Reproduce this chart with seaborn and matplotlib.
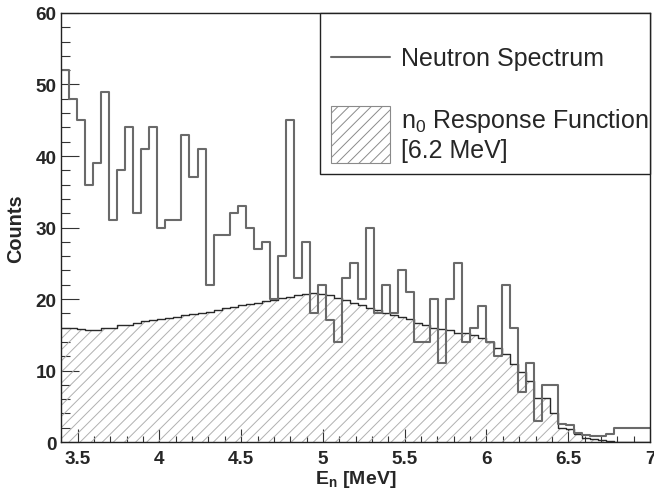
import numpy as np
import pandas as pd
import matplotlib
matplotlib.use('Agg')
import matplotlib.pyplot as plt
import seaborn as sns
from matplotlib.patches import Rectangle
from matplotlib.lines import Line2D
from matplotlib.ticker import MultipleLocator

# histogram binning (MeV)
e_start = 3.4
bin_width = 0.049

# neutron spectrum counts per bin
neutron = [52, 48, 45, 36, 39, 49, 31, 38, 44, 32, 41, 44, 30, 31, 31, 43, 37, 41, 22, 29,
           29, 32, 33, 30, 27, 28, 20, 26, 45, 23, 28, 18, 22, 17, 14, 23, 25, 20, 30, 18,
           22, 18, 24, 21, 14, 14, 20, 11, 20, 25, 14, 16, 19, 14, 12, 22, 16, 7, 11, 3,
           8, 8, 2.5, 2.4, 1.3, 1.0, 0.8, 0.8, 1.1, 2, 2, 2, 2, 2]

# n0 response function [6.2 MeV]
response = [16.0, 15.9, 15.8, 15.7, 15.7, 15.9, 16.0, 16.3, 16.4, 16.7, 16.9, 17.0, 17.2, 17.4,
            17.5, 17.8, 17.9, 18.1, 18.2, 18.5, 18.7, 18.9, 19.1, 19.3, 19.5, 19.7, 19.9, 20.1,
            20.3, 20.5, 20.7, 20.8, 20.7, 20.5, 20.2, 19.9, 19.4, 19.2, 18.8, 18.4, 18.1, 17.8,
            17.5, 17.2, 16.7, 16.3, 15.9, 15.8, 15.7, 15.3, 15.2, 15.0, 14.6, 14.0, 13.2, 12.3,
            10.9, 9.8, 8.6, 6.2, 6.1, 4.1, 2.0, 1.8, 1.1, 0.6, 0.4, 0.3, 0.1, 0, 0, 0, 0, 0]

edges = list(e_start + bin_width * np.arange(len(neutron) + 1))
df = pd.DataFrame({'E': np.array(edges[:-1]) + bin_width / 2, 'neutron': neutron,
                   'response': response})

sns.set_style('ticks')
plt.rcParams['font.family'] = ['Liberation Sans', 'DejaVu Sans']
plt.rcParams['mathtext.fontset'] = 'custom'
plt.rcParams['mathtext.rm'] = 'Liberation Sans'
plt.rcParams['mathtext.bf'] = 'Liberation Sans:bold'
plt.rcParams['hatch.linewidth'] = 0.7

hatch_col = '#b0b0b0'
fig = plt.figure(figsize=(6.54, 4.89), dpi=100)
ax = fig.add_axes([0.0937, 0.094, 0.9002, 0.8774])

# response function: hatched fill + dark outline
sns.histplot(data=df, x='E', weights='response', bins=edges, element='step', fill=True,
             color=hatch_col, facecolor='none', edgecolor=hatch_col, linewidth=0,
             hatch='///', ax=ax)
sns.histplot(data=df, x='E', weights='response', bins=edges, element='step', fill=False,
             color='#2a2a2a', linewidth=1.0, ax=ax)
# neutron spectrum
sns.histplot(data=df, x='E', weights='neutron', bins=edges, element='step', fill=False,
             color='#6a6a6a', linewidth=1.5, ax=ax)

ax.set_xlim(3.4, 7.0)
ax.set_ylim(0, 60)
ax.xaxis.set_major_locator(MultipleLocator(0.5))
ax.xaxis.set_minor_locator(MultipleLocator(0.1))
ax.yaxis.set_major_locator(MultipleLocator(10))
ax.yaxis.set_minor_locator(MultipleLocator(2))
ax.set_xticks([3.5, 4, 4.5, 5, 5.5, 6, 6.5, 7])
ax.set_xticklabels(['3.5', '4', '4.5', '5', '5.5', '6', '6.5', '7'])
ax.tick_params(axis='both', which='both', direction='in', color='#333333', width=0.8,
               labelsize=13.6, top=False, right=False)
ax.tick_params(axis='y', which='major', length=12.7, pad=3.4)
ax.tick_params(axis='y', which='minor', length=6.7)
ax.tick_params(axis='x', which='major', length=9.1, pad=5.5)
ax.tick_params(axis='x', which='minor', length=4.3)
for lab in ax.get_xticklabels() + ax.get_yticklabels():
    lab.set_fontweight('bold')
for s in ax.spines.values():
    s.set_visible(True)
    s.set_color('#222222')
    s.set_linewidth(1.0)

ax.set_xlabel('')
ax.set_ylabel('')
ax.text(0.5, -0.086, r'E$_\mathbf{n}$ [MeV]', transform=ax.transAxes, ha='center', va='center',
        fontsize=14, fontweight='bold')
ax.text(-0.078, 0.5, 'Counts', transform=ax.transAxes, ha='center', va='center',
        rotation=90, fontsize=14.3, fontweight='bold')

# legend box drawn by hand (ROOT TLegend look)
ax.add_patch(Rectangle((0.439, 0.6247), 0.561, 0.3753, transform=ax.transAxes,
                       facecolor='white', edgecolor='#222222', linewidth=1.0, zorder=5,
                       clip_on=False))
ax.add_line(Line2D([0.458, 0.558], [0.897, 0.897], transform=ax.transAxes,
                   color='#6a6a6a', linewidth=1.5, zorder=6))
ax.add_patch(Rectangle((0.458, 0.650), 0.100, 0.133, transform=ax.transAxes,
                       facecolor='white', edgecolor='#8a8a8a', linewidth=0.8, hatch='///',
                       zorder=6))
ax.text(0.577, 0.895, 'Neutron Spectrum', transform=ax.transAxes, ha='left', va='center',
        fontsize=18, zorder=7)
ax.text(0.577, 0.750, r'n$_\mathregular{0}$ Response Function', transform=ax.transAxes,
        ha='left', va='center', fontsize=18, zorder=7)
ax.text(0.577, 0.680, '[6.2 MeV]', transform=ax.transAxes, ha='left', va='center',
        fontsize=18, zorder=7)

fig.savefig('out.png', dpi=100)
